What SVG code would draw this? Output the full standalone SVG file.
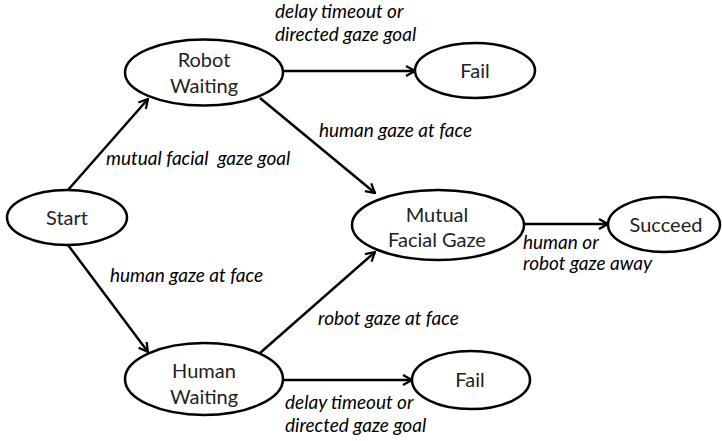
<svg xmlns="http://www.w3.org/2000/svg" width="722" height="441" viewBox="0 0 722 441">
<style>
.node ellipse{fill:#fff;stroke:#000;stroke-width:2.5}
.nt{font-family:Lato,"Liberation Sans",sans-serif;font-size:20px;fill:#222;text-anchor:middle}
.lbl{font-family:Lato,"Liberation Sans",sans-serif;font-size:19px;font-style:italic;fill:#000;white-space:pre}
.edge{stroke:#000;stroke-width:2.5;fill:none;marker-end:url(#arr)}
</style>
<defs>
<marker id="arr" viewBox="0 0 12 12" refX="11" refY="6" markerWidth="12" markerHeight="12" markerUnits="userSpaceOnUse" orient="auto">
<polyline points="2,1 11,6 2,11" fill="none" stroke="#000" stroke-width="2.2"/>
</marker>
</defs>
<g id="connectors">
<line class="edge" x1="68" y1="190" x2="148" y2="99"/>
<line class="edge" x1="68" y1="245" x2="148" y2="352"/>
<line class="edge" x1="260" y1="98" x2="375" y2="193"/>
<line class="edge" x1="260" y1="353" x2="375" y2="252"/>
<line class="edge" x1="283" y1="71" x2="415" y2="71"/>
<line class="edge" x1="283" y1="380" x2="412" y2="380"/>
<line class="edge" x1="525" y1="224" x2="608" y2="224"/>
<text class="lbl" x="275" y="18">delay timeout or</text>
<text class="lbl" x="275" y="41">directed gaze goal</text>
<text class="lbl" x="106" y="165" xml:space="preserve">mutual facial  gaze goal</text>
<text class="lbl" x="319" y="137">human gaze at face</text>
<text class="lbl" x="110" y="282">human gaze at face</text>
<text class="lbl" x="318" y="325">robot gaze at face</text>
<text class="lbl" x="523" y="249">human or</text>
<text class="lbl" x="523" y="270">robot gaze away</text>
<text class="lbl" x="285" y="409">delay timeout or</text>
<text class="lbl" x="285" y="432">directed gaze goal</text>
</g>
<g id="start" class="node"><ellipse cx="67" cy="217.5" rx="60" ry="27.5"/><text class="nt" x="67" y="225">Start</text></g>
<g id="robot-waiting" class="node"><ellipse cx="204" cy="72.5" rx="79" ry="33"/><text class="nt" x="204" y="67">Robot</text><text class="nt" x="204" y="93">Waiting</text></g>
<g id="human-waiting" class="node"><ellipse cx="204" cy="379" rx="79" ry="36"/><text class="nt" x="204" y="378">Human</text><text class="nt" x="204" y="404">Waiting</text></g>
<g id="mutual" class="node"><ellipse cx="438" cy="225" rx="86" ry="35"/><text class="nt" x="437" y="222">Mutual</text><text class="nt" x="437" y="247">Facial Gaze</text></g>
<g id="fail-top" class="node"><ellipse cx="475" cy="70.5" rx="60" ry="27.5"/><text class="nt" x="475" y="78">Fail</text></g>
<g id="fail-bottom" class="node"><ellipse cx="471" cy="380" rx="59" ry="29"/><text class="nt" x="470" y="387">Fail</text></g>
<g id="succeed" class="node"><ellipse cx="664" cy="224.5" rx="56" ry="27.5"/><text class="nt" x="666" y="232">Succeed</text></g>
</svg>
